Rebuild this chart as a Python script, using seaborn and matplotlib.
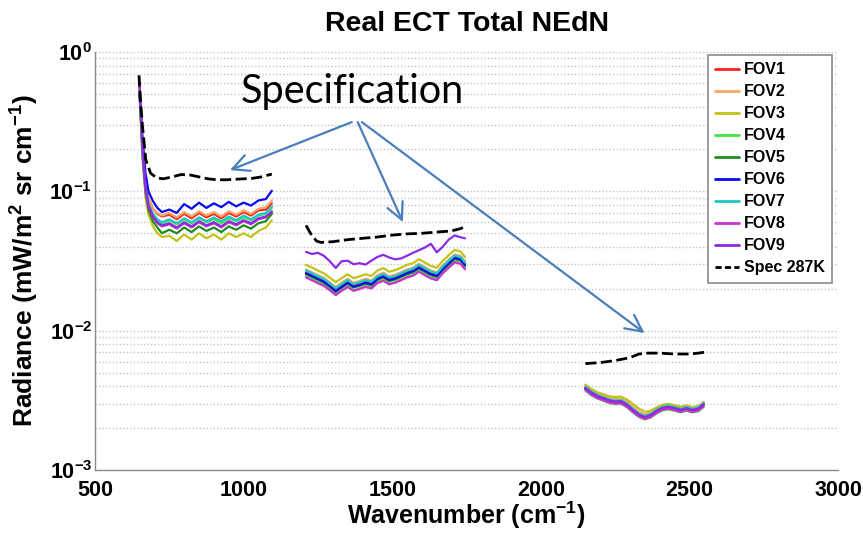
import numpy as np
import pandas as pd
import matplotlib
matplotlib.use("Agg")
import matplotlib.pyplot as plt
from matplotlib.lines import Line2D
from matplotlib.ticker import LogLocator, NullFormatter
import seaborn as sns

# ---------------- data ----------------
fov_names = ["FOV1", "FOV2", "FOV3", "FOV4", "FOV5", "FOV6", "FOV7", "FOV8", "FOV9"]
fov_colors = ["#ff2020", "#f5a96a", "#c2c21a", "#3ee63e", "#1e8c1e",
              "#0a0aee", "#1ec8c8", "#cc33cc", "#8a2be2"]

wn1 = [650, 660, 670, 680, 695, 710, 725, 750, 775, 800, 825, 850, 875, 900,
       925, 950, 975, 1000, 1025, 1050, 1075, 1095]
wn2 = [1210, 1230, 1250, 1270, 1290, 1310, 1330, 1350, 1370, 1390, 1410, 1430,
       1450, 1470, 1490, 1510, 1530, 1550, 1570, 1590, 1610, 1630, 1650, 1670,
       1690, 1710, 1730, 1745]
wn3 = [2150, 2170, 2190, 2210, 2230, 2250, 2270, 2290, 2310, 2330, 2350, 2370,
       2390, 2410, 2430, 2450, 2470, 2490, 2510, 2530, 2548]

fov1_b1 = [0.58, 0.21, 0.115, 0.088, 0.075, 0.069, 0.066, 0.068, 0.063, 0.069, 0.064, 0.070, 0.065, 0.069, 0.064, 0.070, 0.066, 0.071, 0.067, 0.073, 0.074, 0.082]
fov2_b1 = [0.55, 0.20, 0.112, 0.087, 0.074, 0.070, 0.067, 0.070, 0.065, 0.071, 0.066, 0.072, 0.067, 0.071, 0.066, 0.072, 0.068, 0.073, 0.069, 0.075, 0.077, 0.086]
fov3_b1 = [0.48, 0.17, 0.092, 0.068, 0.056, 0.050, 0.047, 0.048, 0.044, 0.049, 0.045, 0.050, 0.046, 0.049, 0.045, 0.050, 0.047, 0.050, 0.047, 0.052, 0.055, 0.062]
fov4_b1 = [0.52, 0.19, 0.105, 0.080, 0.068, 0.063, 0.059, 0.062, 0.058, 0.063, 0.059, 0.064, 0.060, 0.063, 0.059, 0.064, 0.061, 0.065, 0.062, 0.067, 0.069, 0.076]
fov5_b1 = [0.50, 0.18, 0.098, 0.074, 0.061, 0.055, 0.050, 0.053, 0.050, 0.055, 0.051, 0.056, 0.052, 0.055, 0.051, 0.056, 0.053, 0.057, 0.054, 0.059, 0.061, 0.069]
fov6_b1 = [0.50, 0.24, 0.135, 0.100, 0.085, 0.076, 0.071, 0.074, 0.070, 0.081, 0.075, 0.083, 0.076, 0.082, 0.077, 0.084, 0.078, 0.083, 0.079, 0.086, 0.088, 0.101]
fov7_b1 = [0.53, 0.19, 0.107, 0.081, 0.069, 0.063, 0.060, 0.063, 0.059, 0.064, 0.060, 0.065, 0.061, 0.065, 0.061, 0.066, 0.062, 0.067, 0.063, 0.068, 0.070, 0.078]
fov8_b1 = [0.60, 0.20, 0.104, 0.078, 0.065, 0.059, 0.056, 0.058, 0.054, 0.059, 0.055, 0.060, 0.056, 0.059, 0.055, 0.060, 0.057, 0.061, 0.058, 0.063, 0.065, 0.072]
fov9_b1 = [0.56, 0.20, 0.106, 0.079, 0.066, 0.060, 0.057, 0.059, 0.055, 0.060, 0.056, 0.061, 0.057, 0.060, 0.056, 0.061, 0.058, 0.062, 0.059, 0.064, 0.066, 0.071]

fov1_b2 = [0.0262, 0.0250, 0.0238, 0.0228, 0.0212, 0.0196, 0.0210, 0.0224, 0.0210, 0.0216, 0.0224, 0.0218, 0.0238, 0.0248, 0.0234, 0.0240, 0.0250, 0.0262, 0.0270, 0.0288, 0.0272, 0.0258, 0.0250, 0.0280, 0.0308, 0.0336, 0.0328, 0.0300]
fov2_b2 = [0.0275, 0.0262, 0.0250, 0.0240, 0.0222, 0.0206, 0.0221, 0.0236, 0.0220, 0.0227, 0.0236, 0.0229, 0.0250, 0.0261, 0.0245, 0.0252, 0.0263, 0.0275, 0.0283, 0.0302, 0.0286, 0.0271, 0.0262, 0.0294, 0.0323, 0.0352, 0.0344, 0.0315]
fov3_b2 = [0.0296, 0.0284, 0.0270, 0.0258, 0.0240, 0.0223, 0.0238, 0.0254, 0.0238, 0.0245, 0.0254, 0.0247, 0.0270, 0.0281, 0.0265, 0.0272, 0.0283, 0.0297, 0.0305, 0.0326, 0.0308, 0.0292, 0.0283, 0.0317, 0.0348, 0.0380, 0.0370, 0.0338]
fov4_b2 = [0.0244, 0.0233, 0.0221, 0.0212, 0.0197, 0.0182, 0.0195, 0.0208, 0.0195, 0.0201, 0.0208, 0.0203, 0.0221, 0.0231, 0.0218, 0.0223, 0.0233, 0.0244, 0.0251, 0.0268, 0.0253, 0.0240, 0.0233, 0.0260, 0.0286, 0.0312, 0.0305, 0.0279]
fov5_b2 = [0.0254, 0.0243, 0.0231, 0.0221, 0.0206, 0.0190, 0.0204, 0.0217, 0.0204, 0.0210, 0.0217, 0.0211, 0.0231, 0.0241, 0.0227, 0.0233, 0.0243, 0.0254, 0.0262, 0.0279, 0.0264, 0.0250, 0.0243, 0.0272, 0.0299, 0.0326, 0.0318, 0.0291]
fov6_b2 = [0.0258, 0.0247, 0.0236, 0.0225, 0.0209, 0.0192, 0.0206, 0.0221, 0.0207, 0.0213, 0.0221, 0.0215, 0.0235, 0.0245, 0.0231, 0.0237, 0.0247, 0.0259, 0.0267, 0.0284, 0.0269, 0.0255, 0.0247, 0.0277, 0.0304, 0.0332, 0.0325, 0.0297]
fov7_b2 = [0.0270, 0.0258, 0.0245, 0.0235, 0.0218, 0.0202, 0.0216, 0.0231, 0.0216, 0.0222, 0.0231, 0.0225, 0.0245, 0.0255, 0.0241, 0.0247, 0.0258, 0.0270, 0.0278, 0.0297, 0.0280, 0.0266, 0.0258, 0.0288, 0.0317, 0.0346, 0.0338, 0.0309]
fov8_b2 = [0.0241, 0.0230, 0.0219, 0.0210, 0.0195, 0.0180, 0.0193, 0.0206, 0.0193, 0.0199, 0.0206, 0.0201, 0.0219, 0.0228, 0.0215, 0.0221, 0.0230, 0.0241, 0.0248, 0.0265, 0.0250, 0.0237, 0.0230, 0.0258, 0.0283, 0.0309, 0.0302, 0.0276]
fov9_b2 = [0.0368, 0.0355, 0.0362, 0.0345, 0.0315, 0.0282, 0.0315, 0.0318, 0.0300, 0.0305, 0.0298, 0.0318, 0.0338, 0.0350, 0.0335, 0.0325, 0.0330, 0.0345, 0.0362, 0.0378, 0.0395, 0.0420, 0.0365, 0.0400, 0.0450, 0.0482, 0.0468, 0.0460]

fov1_b3 = [0.00392, 0.00362, 0.00342, 0.00330, 0.00318, 0.00312, 0.00314, 0.00296, 0.00272, 0.00252, 0.00242, 0.00250, 0.00268, 0.00282, 0.00286, 0.00280, 0.00272, 0.00280, 0.00272, 0.00278, 0.00298]
fov2_b3 = [0.00405, 0.00376, 0.00354, 0.00342, 0.00330, 0.00324, 0.00326, 0.00308, 0.00284, 0.00262, 0.00251, 0.00259, 0.00278, 0.00292, 0.00296, 0.00290, 0.00282, 0.00290, 0.00282, 0.00288, 0.00308]
fov3_b3 = [0.00410, 0.00382, 0.00362, 0.00350, 0.00338, 0.00334, 0.00336, 0.00320, 0.00298, 0.00276, 0.00262, 0.00266, 0.00282, 0.00294, 0.00298, 0.00292, 0.00284, 0.00290, 0.00282, 0.00286, 0.00304]
fov4_b3 = [0.00372, 0.00344, 0.00326, 0.00314, 0.00302, 0.00297, 0.00298, 0.00282, 0.00259, 0.00240, 0.00231, 0.00238, 0.00255, 0.00268, 0.00272, 0.00266, 0.00259, 0.00266, 0.00259, 0.00264, 0.00284]
fov5_b3 = [0.00380, 0.00351, 0.00332, 0.00320, 0.00308, 0.00303, 0.00305, 0.00287, 0.00264, 0.00244, 0.00235, 0.00243, 0.00260, 0.00274, 0.00277, 0.00272, 0.00264, 0.00272, 0.00264, 0.00270, 0.00290]
fov6_b3 = [0.00386, 0.00358, 0.00338, 0.00327, 0.00316, 0.00310, 0.00311, 0.00293, 0.00270, 0.00250, 0.00240, 0.00248, 0.00266, 0.00280, 0.00284, 0.00278, 0.00270, 0.00278, 0.00270, 0.00276, 0.00300]
fov7_b3 = [0.00396, 0.00366, 0.00346, 0.00333, 0.00321, 0.00315, 0.00317, 0.00299, 0.00275, 0.00254, 0.00244, 0.00253, 0.00271, 0.00285, 0.00289, 0.00283, 0.00275, 0.00283, 0.00275, 0.00281, 0.00301]
fov8_b3 = [0.00376, 0.00347, 0.00328, 0.00317, 0.00305, 0.00300, 0.00301, 0.00284, 0.00261, 0.00242, 0.00232, 0.00240, 0.00257, 0.00271, 0.00275, 0.00269, 0.00261, 0.00269, 0.00261, 0.00267, 0.00286]
fov9_b3 = [0.00388, 0.00360, 0.00340, 0.00328, 0.00316, 0.00310, 0.00312, 0.00294, 0.00270, 0.00250, 0.00240, 0.00248, 0.00266, 0.00280, 0.00284, 0.00278, 0.00270, 0.00278, 0.00270, 0.00276, 0.00296]

spec_wn1 = [648, 653, 660, 671, 687, 707, 730, 760, 790, 820, 850, 880, 910, 940, 970, 1000, 1030, 1060, 1095]
spec_b1 = [0.68, 0.45, 0.29, 0.168, 0.135, 0.125, 0.123, 0.127, 0.132, 0.131, 0.127, 0.123, 0.121, 0.121, 0.122, 0.123, 0.124, 0.127, 0.133]
spec_wn2 = [1210, 1225, 1245, 1260, 1300, 1350, 1400, 1450, 1500, 1550, 1600, 1650, 1700, 1730, 1745]
spec_b2 = [0.057, 0.050, 0.044, 0.043, 0.0435, 0.045, 0.046, 0.047, 0.0485, 0.0495, 0.050, 0.051, 0.052, 0.054, 0.056]
spec_wn3 = [2150, 2200, 2250, 2300, 2330, 2360, 2400, 2450, 2500, 2530, 2550]
spec_b3 = [0.0058, 0.0059, 0.0061, 0.0064, 0.0068, 0.0069, 0.0069, 0.0068, 0.0068, 0.0069, 0.0070]

x_ticks = [500, 1000, 1500, 2000, 2500, 3000]

# ---------------- assemble ----------------
fov_b1 = [fov1_b1, fov2_b1, fov3_b1, fov4_b1, fov5_b1, fov6_b1, fov7_b1, fov8_b1, fov9_b1]
fov_b2 = [fov1_b2, fov2_b2, fov3_b2, fov4_b2, fov5_b2, fov6_b2, fov7_b2, fov8_b2, fov9_b2]
fov_b3 = [fov1_b3, fov2_b3, fov3_b3, fov4_b3, fov5_b3, fov6_b3, fov7_b3, fov8_b3, fov9_b3]

rows = []
for name, b1, b2, b3 in zip(fov_names, fov_b1, fov_b2, fov_b3):
    for band, wns, vals in ((1, wn1, b1), (2, wn2, b2), (3, wn3, b3)):
        for w, v in zip(wns, vals):
            rows.append((name, band, w, v))
df = pd.DataFrame(rows, columns=["fov", "band", "wn", "rad"])

srows = []
for band, wns, vals in ((1, spec_wn1, spec_b1), (2, spec_wn2, spec_b2), (3, spec_wn3, spec_b3)):
    for w, v in zip(wns, vals):
        srows.append((band, w, v))
sdf = pd.DataFrame(srows, columns=["band", "wn", "rad"])

# ---------------- plot ----------------
sns.set_style("white")
plt.rcParams["font.family"] = ["Liberation Sans", "DejaVu Sans"]
plt.rcParams["mathtext.fontset"] = "custom"
plt.rcParams["mathtext.rm"] = "Liberation Sans:bold"
plt.rcParams["mathtext.it"] = "Liberation Sans:bold"
plt.rcParams["mathtext.bf"] = "Liberation Sans:bold"
plt.rcParams["mathtext.default"] = "regular"
for k in ["text.color", "axes.labelcolor", "xtick.labelcolor", "ytick.labelcolor"]:
    plt.rcParams[k] = "black"

fig = plt.figure(figsize=(8.63, 5.33), dpi=100)
ax = fig.add_axes([95 / 863, 1 - 470 / 533, (838 - 95) / 863, (470 - 52) / 533])

palette = dict(zip(fov_names, fov_colors))
sns.lineplot(data=df, x="wn", y="rad", hue="fov", units="band", estimator=None,
             palette=palette, sort=False, lw=1.6, legend=False, ax=ax)
sns.lineplot(data=sdf, x="wn", y="rad", units="band", estimator=None, color="black",
             sort=False, lw=2.0, linestyle=(0, (4.0, 1.6)), legend=False, ax=ax)

ax.set_yscale("log")
ax.set_xlim(500, 3000)
ax.set_ylim(1e-3, 1)
ax.set_xticks(x_ticks)
ax.set_xticklabels([str(t) for t in x_ticks])
ax.yaxis.set_major_locator(LogLocator(base=10, numticks=10))
ax.yaxis.set_minor_locator(LogLocator(base=10, subs=np.arange(2, 10), numticks=20))
ax.yaxis.set_minor_formatter(NullFormatter())

ax.yaxis.grid(True, which="both", linestyle=(0, (1, 1.5)), color="#c4c4c4", lw=1.0)
ax.xaxis.grid(False)
ax.set_axisbelow(True)

for s in ["top", "right"]:
    ax.spines[s].set_visible(False)
for s in ["left", "bottom"]:
    ax.spines[s].set_color("#8a8a8a")
    ax.spines[s].set_linewidth(1.0)

ax.tick_params(axis="both", which="major", direction="in", length=5, color="#8a8a8a",
               labelsize=15.5, labelcolor="black")
ax.tick_params(axis="x", which="major", pad=7)
ax.tick_params(axis="y", which="major", pad=2)
ax.tick_params(axis="y", which="minor", direction="in", length=3, color="#8a8a8a")
for lab in ax.get_xticklabels() + ax.get_yticklabels():
    lab.set_fontweight("bold")

ax.set_xlabel(r"Wavenumber (cm$^{-1}$)", fontsize=18, fontweight="bold")
ax.xaxis.label.set_va("bottom")
ax.xaxis.set_label_coords(0.5, -0.145)
ax.set_ylabel(r"Radiance (mW/m$^{2}$ sr cm$^{-1}$)", fontsize=19, fontweight="bold", labelpad=6)
ax.set_title("Real ECT Total NEdN", fontsize=20.5, fontweight="bold", pad=15)

# legend
handles = [Line2D([0], [0], color=c, lw=2) for c in fov_colors]
handles.append(Line2D([0], [0], color="black", lw=2, linestyle=(0, (2.2, 1.2))))
labels = fov_names + ["Spec 287K"]
leg = ax.legend(handles, labels, loc="upper right", bbox_to_anchor=(0.992, 0.993),
                borderaxespad=0, frameon=True, fancybox=False, framealpha=1,
                edgecolor="#8a8a8a", prop={"weight": "bold", "size": 11.5},
                handlelength=1.5, handletextpad=0.3, labelspacing=0.44,
                borderpad=0.45)
leg.get_frame().set_linewidth(1.2)

# annotation
arrow_col = "#4a7ebb"
ax.text(1367, 0.43, "Specification", fontsize=28.5, family="Lato", ha="center",
        va="baseline", color="black")
arrow_starts = [(1364, 0.314), (1384, 0.314), (1398, 0.314)]
arrow_ends = [(954, 0.142), (1536, 0.0602), (2349, 0.00961)]
for (sx, sy), (ex, ey) in zip(arrow_starts, arrow_ends):
    ax.annotate("", xy=(ex, ey), xytext=(sx, sy),
                arrowprops=dict(arrowstyle="->", color=arrow_col, lw=1.6,
                                mutation_scale=30, shrinkA=0, shrinkB=0))

fig.savefig("out.png", dpi=100)
